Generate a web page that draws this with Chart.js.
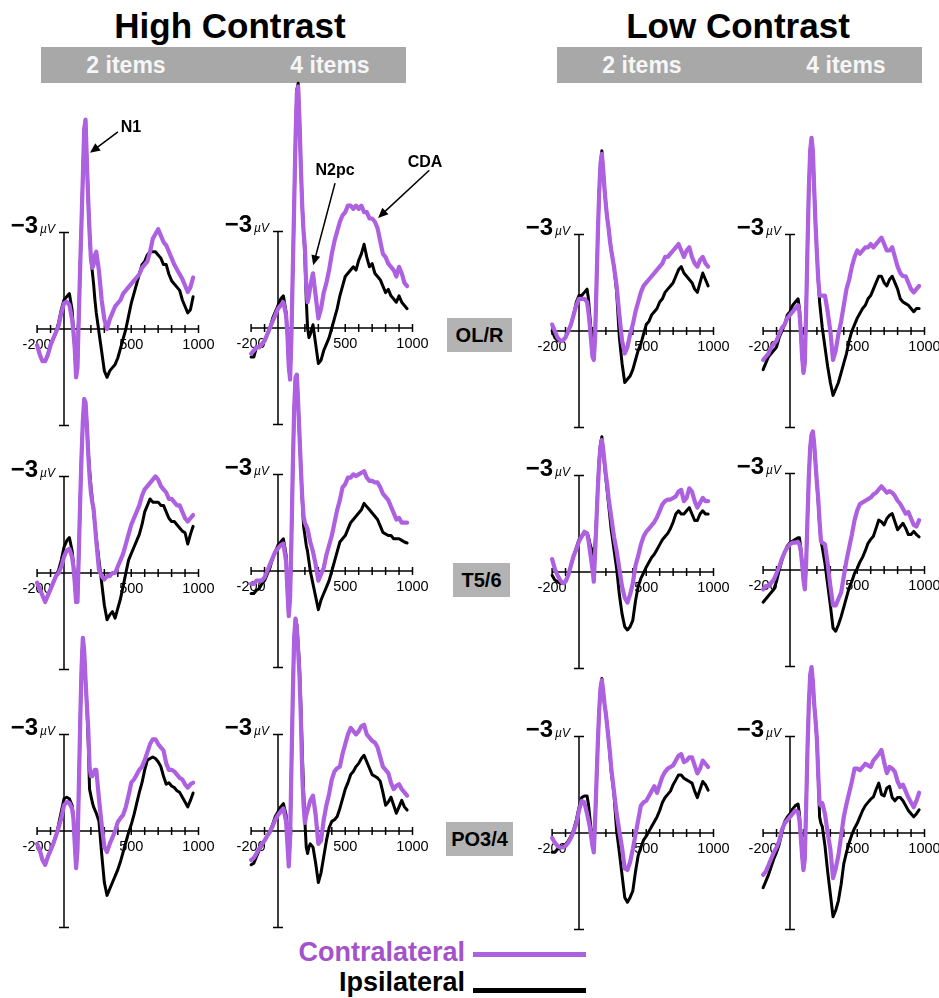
<!DOCTYPE html>
<html>
<head>
<meta charset="utf-8">
<script src="https://cdn.jsdelivr.net/npm/chart.js@4.4.1/dist/chart.umd.min.js"></script>
<style>
html,body{margin:0;padding:0;background:#fff;}
body{width:939px;height:998px;position:relative;overflow:hidden;font-family:"Liberation Sans",Arial,Helvetica,sans-serif;}
.abs{position:absolute;white-space:nowrap;}
.title{font-weight:bold;font-size:35px;line-height:35px;color:#000;transform:translateX(-50%);}
.band{background:#a8a8a8;}
.bandtxt{position:absolute;top:0;height:36px;line-height:36px;color:#f6f6f6;font-weight:bold;font-size:23px;transform:translateX(-50%);}
.rowlab{background:#b3b3b3;font-weight:bold;font-size:20px;color:#000;display:flex;align-items:center;justify-content:center;height:34px;}
.leg{font-weight:bold;font-size:27px;line-height:27px;text-align:right;}
canvas{position:absolute;pointer-events:none;}
</style>
</head>
<body>
<script>
// ---------------- DATA ----------------
// time samples (ms); denser around the N1 complex
const TIMES = [-200,-180,-160,-140,-120,-100,-80,-60,-40,-20,0,20,40,60,
  70,80,90,100,110,120,130,140,150,160,170,180,190,200,210,220,230,240,
  260,280,300,320,340,360,380,400,420,440,460,480,500,520,540,560,580,600,620,640,
  660,680,700,720,740,760,780,800,820,840,860,880,900,920,940,960];

const CONTRAST_LABELS = ["High Contrast", "Low Contrast"];
const SETSIZE_LABELS = ["2 items", "4 items"];
const SITE_LABELS = ["OL/R", "T5/6", "PO3/4"];
const X_TICK_LABELS = [-200, 500, 1000];
const Y_TICK_VALUE = -3;
const Y_TICK_TEXT = "\u22123";
const Y_UNIT = "\u00b5V";
const LEGEND_LABELS = ["Contralateral", "Ipsilateral"];

// µV values (negative plotted up), one value per TIMES entry
const OLR_HC2_CONTRA = [0.5,0.8,1.0,1.0,0.8,0.5,0.3,0.1,-0.1,-0.5,-0.8,-0.85,-0.75,-0.3,
  0.1,0.6,1.5,1.2,-0.4,-1.9,-3.3,-4.7,-6.2,-6.5,-5.2,-4.0,-3.0,-2.2,-1.9,-2.0,-2.3,-2.4,
  -1.8,-0.9,-0.3,0.0,-0.3,-0.5,-0.7,-0.8,-0.9,-1.1,-1.2,-1.3,-1.4,-1.5,-1.6,-1.7,-1.9,-2.0,-2.1,-2.4,
  -2.8,-2.95,-3.1,-2.9,-2.7,-2.6,-2.4,-2.2,-2.0,-1.85,-1.7,-1.55,-1.35,-1.15,-1.3,-1.6];
const OLR_HC2_IPSI = [0.5,0.8,1.0,1.0,0.8,0.5,0.3,0.1,-0.2,-0.6,-0.9,-1.0,-1.1,-0.6,
  0.0,0.6,1.5,1.2,-0.4,-1.9,-3.3,-4.7,-6.2,-6.5,-5.2,-4.0,-3.0,-2.2,-1.8,-1.4,-0.9,-0.5,
  0.1,0.7,1.3,1.5,1.3,1.2,1.1,0.9,0.6,0.3,0.0,-0.4,-0.8,-1.1,-1.4,-1.7,-2.0,-2.1,-2.3,-2.4,
  -2.4,-2.4,-2.3,-2.2,-2.0,-2.0,-1.7,-1.5,-1.4,-1.3,-1.2,-0.9,-0.7,-0.5,-0.6,-1.0];
const OLR_HC4_CONTRA = [0.8,0.7,0.6,0.6,0.5,0.4,0.2,0.0,-0.2,-0.4,-0.6,-0.7,-0.8,-0.4,
  0.2,1.2,1.6,0.2,-1.8,-3.8,-5.8,-7.3,-7.5,-6.4,-5.0,-3.8,-3.0,-2.5,-1.3,-0.8,-1.0,-1.3,
  -1.7,-1.0,-0.3,-0.6,-1.1,-1.4,-1.8,-2.3,-2.7,-3.0,-3.3,-3.5,-3.6,-3.8,-3.8,-3.7,-3.8,-3.7,-3.8,-3.6,
  -3.6,-3.4,-3.4,-3.3,-3.1,-2.7,-2.3,-2.2,-2.0,-1.9,-1.8,-1.6,-1.9,-1.7,-1.4,-1.3];
const OLR_HC4_IPSI = [0.9,0.9,0.6,0.6,0.5,0.4,0.2,0.0,-0.3,-0.5,-0.7,-0.9,-1.0,-0.5,
  0.2,1.2,1.6,0.2,-1.8,-3.8,-5.8,-7.4,-7.6,-6.4,-5.0,-3.8,-3.0,-2.2,-0.9,0.0,0.3,0.2,
  -0.1,0.5,1.1,1.0,0.7,0.5,0.3,0.0,-0.3,-0.6,-1.0,-1.3,-1.6,-1.7,-1.8,-1.9,-1.8,-2.1,-2.3,-2.6,
  -2.2,-1.9,-2.0,-1.7,-1.6,-1.5,-1.3,-1.1,-1.2,-1.0,-0.9,-0.8,-1.0,-0.8,-0.7,-0.6];
const OLR_LC2_CONTRA = [-0.2,0.0,0.2,0.3,0.3,0.2,0.0,-0.2,-0.5,-0.8,-1.0,-1.0,-1.0,-0.9,
  -0.6,-0.2,0.3,0.8,0.9,0.2,-1.4,-3.0,-4.3,-5.2,-5.5,-5.0,-4.4,-3.9,-3.5,-3.2,-2.8,-2.5,
  -2.0,-1.4,-0.5,0.3,0.7,0.5,0.1,-0.2,-0.6,-0.9,-1.2,-1.4,-1.5,-1.6,-1.7,-1.8,-1.9,-2.0,-2.1,-2.3,
  -2.3,-2.4,-2.5,-2.6,-2.7,-2.5,-2.3,-2.5,-2.6,-2.3,-2.1,-2.0,-2.2,-2.3,-2.1,-2.0];
const OLR_LC2_IPSI = [0.0,0.2,0.3,0.3,0.3,0.2,0.0,-0.2,-0.5,-0.9,-1.1,-1.1,-1.2,-1.3,
  -1.0,-0.5,0.0,0.2,0.3,0.0,-1.4,-3.0,-4.3,-5.2,-5.6,-5.0,-4.4,-3.9,-3.5,-3.2,-2.8,-2.5,
  -2.0,-1.2,0.2,1.0,1.6,1.5,1.4,1.2,0.9,0.6,0.4,0.1,-0.2,-0.3,-0.5,-0.6,-0.7,-0.9,-1.0,-1.2,
  -1.3,-1.4,-1.5,-1.7,-1.9,-2.0,-1.8,-1.7,-1.6,-1.5,-1.3,-1.2,-1.5,-1.8,-1.6,-1.4];
const OLR_LC4_CONTRA = [0.9,0.8,0.7,0.5,0.4,0.3,0.1,-0.1,-0.2,-0.4,-0.5,-0.6,-0.7,-0.8,
  -0.6,0.0,0.8,1.3,1.0,-0.6,-2.6,-4.4,-5.6,-6.0,-5.6,-4.4,-3.3,-2.4,-1.6,-1.1,-1.1,-1.1,
  -1.1,-0.6,0.0,0.9,0.6,0.1,-0.3,-0.8,-1.3,-1.6,-2.0,-2.3,-2.5,-2.4,-2.5,-2.6,-2.6,-2.7,-2.6,-2.7,
  -2.8,-2.9,-2.7,-2.5,-2.5,-2.6,-2.3,-2.0,-1.8,-1.7,-1.7,-1.5,-1.3,-1.2,-1.3,-1.4];
const OLR_LC4_IPSI = [1.2,1.0,0.8,0.7,0.6,0.5,0.2,0.0,-0.2,-0.5,-0.6,-0.8,-0.9,-1.0,
  -0.7,0.0,0.8,1.3,1.0,-0.6,-2.6,-4.4,-5.6,-6.0,-5.6,-4.4,-3.3,-2.4,-1.6,-0.9,-0.5,-0.1,
  0.5,1.1,1.6,2.0,1.8,1.6,1.3,1.0,0.7,0.3,0.0,-0.2,-0.4,-0.55,-0.7,-0.8,-1.0,-1.1,-1.3,-1.5,
  -1.7,-1.7,-1.5,-1.4,-1.6,-1.7,-1.5,-1.3,-1.0,-0.9,-0.85,-0.8,-0.7,-0.6,-0.7,-0.7];

const T56_HC2_CONTRA = [0.3,0.5,0.7,0.9,0.7,0.5,0.3,0.1,0.0,-0.2,-0.5,-0.7,-0.75,-0.5,
  -0.2,0.3,0.9,0.9,-0.6,-2.2,-3.6,-4.7,-5.4,-5.3,-4.6,-3.7,-3.0,-2.5,-2.2,-2.0,-1.5,-1.0,
  -0.1,0.1,0.2,0.1,0.1,0.0,0.0,-0.2,-0.4,-0.6,-0.9,-1.2,-1.5,-1.7,-1.9,-2.1,-2.4,-2.6,-2.7,-2.8,
  -2.9,-3.0,-2.9,-2.7,-2.6,-2.5,-2.3,-2.3,-2.2,-2.1,-2.1,-1.9,-1.7,-1.6,-1.7,-1.8];
const T56_HC2_IPSI = [0.3,0.5,0.7,0.9,0.7,0.5,0.3,0.1,-0.1,-0.4,-0.8,-1.0,-1.1,-0.7,
  -0.3,0.3,0.9,0.9,-0.6,-2.2,-3.6,-4.7,-5.4,-5.3,-4.6,-3.8,-3.2,-2.7,-2.3,-1.9,-1.5,-1.1,
  -0.4,0.3,1.0,1.45,1.3,1.2,1.4,1.1,0.8,0.4,0.0,-0.4,-0.6,-0.8,-1.0,-1.2,-1.5,-1.9,-2.1,-2.3,
  -2.2,-2.2,-2.2,-2.1,-2.1,-1.9,-1.7,-1.6,-1.6,-1.5,-1.4,-1.3,-1.25,-0.9,-1.2,-1.45];
const T56_HC4_CONTRA = [0.4,0.4,0.3,0.3,0.3,0.2,0.0,-0.2,-0.4,-0.6,-0.7,-0.8,-0.85,-0.3,
  0.6,1.4,0.8,-1.0,-3.2,-5.0,-6.0,-6.1,-5.2,-4.2,-3.2,-2.3,-1.7,-1.5,-1.4,-1.3,-1.1,-0.9,
  -0.6,-0.2,0.3,0.1,-0.1,-0.5,-0.8,-1.1,-1.5,-1.9,-2.2,-2.6,-2.7,-2.9,-2.9,-3.0,-2.95,-3.0,-3.05,-3.1,
  -2.9,-2.8,-2.8,-2.75,-2.75,-2.6,-2.4,-2.3,-2.2,-2.0,-1.8,-1.6,-1.65,-1.5,-1.5,-1.5];
const T56_HC4_IPSI = [0.7,0.7,0.6,0.55,0.4,0.3,0.1,-0.1,-0.4,-0.6,-0.8,-0.9,-1.0,-0.5,
  0.6,1.4,0.8,-1.0,-3.2,-5.0,-6.0,-6.1,-5.2,-4.2,-3.2,-2.2,-1.4,-1.1,-0.8,-0.6,-0.3,0.0,
  0.4,0.8,1.2,0.9,0.7,0.5,0.3,0.0,-0.3,-0.6,-0.9,-1.0,-1.1,-1.3,-1.5,-1.6,-1.7,-1.8,-1.9,-2.1,
  -2.0,-1.9,-1.8,-1.7,-1.6,-1.4,-1.2,-1.15,-1.1,-1.1,-1.0,-1.0,-1.0,-0.95,-0.9,-0.87];
const T56_LC2_CONTRA = [-0.4,-0.1,0.1,0.25,0.35,0.3,0.1,-0.2,-0.5,-0.7,-0.95,-1.1,-1.25,-1.2,
  -1.0,-0.7,-0.4,-0.1,0.3,-0.6,-1.6,-2.6,-3.4,-3.9,-4.1,-3.8,-3.4,-3.0,-2.7,-2.3,-2.0,-1.7,
  -1.1,-0.65,-0.1,0.45,0.8,0.95,0.7,0.35,-0.2,-0.5,-0.85,-1.1,-1.25,-1.35,-1.45,-1.55,-1.7,-1.9,-2.1,-2.2,
  -2.25,-2.25,-2.3,-2.35,-2.5,-2.55,-2.2,-2.3,-2.6,-2.5,-2.2,-2.0,-2.15,-2.3,-2.2,-2.2];
const T56_LC2_IPSI = [0.1,0.25,0.3,0.35,0.35,0.3,0.1,-0.2,-0.5,-0.75,-1.0,-1.1,-1.2,-1.2,
  -1.1,-0.9,-0.75,-0.7,-0.5,-0.9,-1.7,-2.7,-3.5,-4.0,-4.2,-3.8,-3.3,-2.9,-2.5,-2.1,-1.7,-1.3,
  -0.7,-0.1,0.7,1.3,1.7,1.8,1.7,1.5,0.9,0.45,0.2,0.03,-0.15,-0.3,-0.45,-0.55,-0.7,-0.85,-1.0,-1.1,
  -1.2,-1.35,-1.55,-1.8,-1.9,-1.8,-1.8,-1.9,-2.0,-1.8,-1.6,-1.6,-1.8,-1.9,-1.8,-1.8];
const T56_LC4_CONTRA = [0.6,0.5,0.5,0.4,0.3,0.1,-0.1,-0.35,-0.55,-0.7,-0.8,-0.85,-0.85,-0.87,
  -0.8,-0.6,-0.2,0.3,0.6,-0.2,-1.6,-2.9,-3.8,-4.2,-4.3,-3.9,-3.3,-2.7,-2.2,-1.5,-0.9,-0.85,
  -0.8,-0.2,0.5,1.1,1.1,0.9,0.7,0.2,-0.3,-0.7,-1.1,-1.55,-1.85,-2.05,-2.1,-2.15,-2.2,-2.25,-2.35,-2.4,
  -2.5,-2.6,-2.5,-2.4,-2.45,-2.4,-2.3,-2.15,-2.05,-1.9,-1.75,-1.8,-1.6,-1.4,-1.35,-1.55];
const T56_LC4_IPSI = [1.0,0.9,0.8,0.7,0.6,0.35,0.0,-0.3,-0.55,-0.75,-0.85,-0.9,-0.95,-1.0,
  -1.0,-0.7,-0.2,0.3,0.6,-0.2,-1.6,-2.9,-3.8,-4.2,-4.3,-3.9,-3.3,-2.7,-2.1,-1.4,-0.9,-0.7,
  -0.2,0.45,1.1,1.8,1.9,1.7,1.45,1.15,0.85,0.55,0.35,0.1,-0.05,-0.25,-0.4,-0.6,-0.83,-0.95,-1.05,-1.3,
  -1.55,-1.5,-1.4,-1.6,-1.7,-1.75,-1.5,-1.25,-1.35,-1.45,-1.3,-1.1,-1.1,-1.2,-1.1,-1.03];

const PO34_HC2_CONTRA = [0.4,0.6,0.9,1.05,0.8,0.6,0.4,0.15,-0.1,-0.4,-0.8,-0.9,-0.87,-0.7,
  -0.4,0.4,1.15,0.6,-1.3,-3.3,-5.0,-6.0,-5.6,-4.7,-3.9,-3.2,-2.0,-1.7,-1.7,-1.8,-1.9,-1.9,
  -1.0,-0.2,0.5,0.65,0.4,0.2,0.0,-0.28,-0.4,-0.5,-0.75,-1.1,-1.5,-1.6,-1.75,-1.9,-2.0,-2.2,-2.45,-2.7,
  -2.85,-2.85,-2.7,-2.6,-2.5,-2.1,-1.9,-1.9,-1.85,-1.75,-1.65,-1.6,-1.45,-1.35,-1.45,-1.5];
const PO34_HC2_IPSI = [0.4,0.6,0.9,1.05,0.8,0.6,0.4,0.15,-0.2,-0.6,-1.0,-1.05,-1.0,-0.8,
  -0.45,0.4,1.15,0.6,-1.3,-3.3,-5.0,-6.0,-5.6,-4.7,-3.9,-2.8,-1.3,-1.1,-0.9,-0.75,-0.65,-0.55,
  -0.3,0.7,1.6,2.0,1.8,1.6,1.4,1.2,0.95,0.65,0.35,0.05,-0.2,-0.5,-0.85,-1.2,-1.5,-1.9,-2.2,-2.25,
  -2.3,-2.25,-2.15,-2.0,-1.7,-1.45,-1.5,-1.4,-1.35,-1.25,-1.2,-1.05,-0.9,-0.75,-0.95,-1.18];
const PO34_HC4_CONTRA = [0.9,0.84,0.7,0.55,0.4,0.3,0.15,0.03,-0.15,-0.35,-0.5,-0.6,-0.7,-0.3,
  0.4,1.1,0.2,-2.0,-4.2,-6.0,-6.6,-6.3,-5.6,-4.8,-3.5,-1.8,-0.8,-0.25,-0.5,-0.65,-0.8,-0.95,
  -1.1,-0.5,0.4,0.3,-0.35,-0.8,-1.15,-1.6,-1.85,-1.95,-2.0,-2.4,-2.7,-3.0,-3.2,-3.1,-3.0,-3.1,-3.25,-3.3,
  -3.0,-2.9,-2.8,-2.75,-2.6,-2.3,-2.0,-1.9,-1.8,-1.5,-1.3,-1.4,-1.45,-1.3,-1.2,-1.1];
const PO34_HC4_IPSI = [1.05,1.0,0.8,0.6,0.45,0.3,0.15,0.0,-0.2,-0.45,-0.6,-0.75,-0.85,-0.5,
  0.3,1.0,0.2,-2.0,-4.2,-6.0,-6.6,-6.4,-5.8,-5.1,-3.9,-2.5,-1.3,-0.3,0.5,0.7,0.5,0.4,
  0.5,1.0,1.6,1.3,0.8,0.3,-0.1,-0.3,-0.35,-0.45,-0.7,-1.0,-1.3,-1.5,-1.75,-1.85,-2.0,-2.1,-2.25,-2.35,
  -2.15,-1.95,-1.75,-1.7,-1.65,-1.55,-1.2,-0.8,-0.9,-1.05,-0.8,-0.55,-0.75,-0.95,-0.75,-0.65];
const PO34_LC2_CONTRA = [0.15,0.3,0.4,0.45,0.45,0.4,0.3,0.15,-0.05,-0.3,-0.7,-1.0,-0.95,-0.6,
  -0.4,-0.2,0.1,0.4,0.6,-0.4,-1.6,-2.8,-3.8,-4.5,-4.75,-4.4,-4.0,-3.7,-3.3,-2.9,-2.5,-2.0,
  -1.3,-0.6,-0.05,0.45,1.1,1.15,0.9,0.5,0.05,-0.4,-0.85,-0.95,-1.0,-1.15,-1.3,-1.45,-1.25,-1.5,-1.75,-1.9,
  -2.0,-2.05,-2.1,-2.25,-2.4,-2.45,-2.2,-2.25,-2.35,-2.35,-2.1,-1.85,-2.0,-2.25,-2.15,-2.05];
const PO34_LC2_IPSI = [0.6,0.6,0.5,0.45,0.4,0.35,0.25,0.1,-0.1,-0.4,-0.8,-1.1,-1.15,-1.15,
  -0.9,-0.5,-0.1,0.3,0.45,-0.4,-1.6,-2.8,-3.8,-4.5,-4.8,-4.4,-4.0,-3.7,-3.3,-2.9,-2.4,-1.9,
  -1.2,-0.05,0.6,1.3,2.0,2.15,2.0,1.8,1.2,0.7,0.45,0.22,0.1,-0.05,-0.2,-0.35,-0.5,-0.7,-0.95,-1.1,
  -1.2,-1.3,-1.5,-1.65,-1.8,-1.8,-1.7,-1.65,-1.6,-1.55,-1.3,-1.1,-1.35,-1.6,-1.5,-1.33];
const PO34_LC4_CONTRA = [1.3,1.2,1.0,0.8,0.6,0.45,0.25,-0.1,-0.3,-0.4,-0.5,-0.6,-0.7,-0.65,
  -0.4,0.1,0.7,1.15,0.8,-0.8,-2.6,-4.0,-4.9,-5.15,-4.7,-4.0,-3.5,-2.9,-1.8,-0.9,-0.85,-0.93,
  -0.6,0.0,0.5,1.4,1.1,0.7,0.1,-0.5,-0.9,-1.25,-1.6,-2.0,-2.0,-1.95,-2.05,-2.15,-2.1,-2.05,-2.25,-2.35,
  -2.45,-2.58,-2.2,-1.86,-2.05,-2.0,-1.9,-1.6,-1.43,-1.5,-1.3,-1.1,-0.95,-0.8,-1.0,-1.25];
const PO34_LC4_IPSI = [1.7,1.5,1.3,1.05,0.8,0.6,0.35,0.0,-0.35,-0.5,-0.6,-0.75,-0.85,-0.9,
  -0.6,0.1,0.7,1.15,0.8,-0.8,-2.6,-4.0,-4.9,-5.15,-4.7,-4.0,-3.5,-2.9,-1.8,-0.5,-0.3,-0.2,
  0.4,1.2,1.9,2.6,2.4,2.1,1.6,0.95,0.6,0.3,0.05,-0.15,-0.3,-0.5,-0.7,-0.85,-0.95,-1.05,-1.12,-1.35,
  -1.55,-1.2,-1.15,-1.4,-1.45,-1.1,-1.0,-1.1,-1.1,-1.0,-0.85,-0.7,-0.6,-0.5,-0.6,-0.72];

// annotations in data coordinates (ms, µV) of the panel they belong to
const NOTES = [
  {panel: 0, label: "N1",   text: [498, -6.27],  tail: [401, -6.12], head: [193, -5.47]},
  {panel: 1, label: "N2pc", text: [424, -4.88],  tail: [424, -4.5],  head: [262, -1.95]},
  {panel: 1, label: "CDA",  text: [1093, -5.15], tail: [1125, -4.9], head: [744, -3.42]}
];

// ---------------- LAYOUT / STYLE ----------------
const PURPLE = "#ad60e0";
const FONT = '"Liberation Sans", Arial, Helvetica, sans-serif';
const PXMS = 0.1345;        // pixels per ms
const PXUV = 32.2;          // pixels per µV
const CW = 252, CH = 392;   // canvas size per panel
const COL_ZERO_X = [64, 278, 579, 790];
const ROW_ZERO_Y = [[329, 328, 331, 331], [573, 571, 572, 570], [831, 831, 833, 833]];

const PANELS = [
  [OLR_HC2_CONTRA, OLR_HC2_IPSI], [OLR_HC4_CONTRA, OLR_HC4_IPSI], [OLR_LC2_CONTRA, OLR_LC2_IPSI], [OLR_LC4_CONTRA, OLR_LC4_IPSI],
  [T56_HC2_CONTRA, T56_HC2_IPSI], [T56_HC4_CONTRA, T56_HC4_IPSI], [T56_LC2_CONTRA, T56_LC2_IPSI], [T56_LC4_CONTRA, T56_LC4_IPSI],
  [PO34_HC2_CONTRA, PO34_HC2_IPSI], [PO34_HC4_CONTRA, PO34_HC4_IPSI], [PO34_LC2_CONTRA, PO34_LC2_IPSI], [PO34_LC4_CONTRA, PO34_LC4_IPSI]
];

function el(cls, style, text) {
  const d = document.createElement('div');
  d.className = 'abs ' + cls;
  Object.assign(d.style, style);
  if (text !== undefined) d.textContent = text;
  document.body.appendChild(d);
  return d;
}

// titles and header bands
el('title', {left: '230px', top: '8px'}, CONTRAST_LABELS[0]);
el('title', {left: '738px', top: '8px'}, CONTRAST_LABELS[1]);
const BANDS = [{left: 41, width: 365, cols: [126, 330]}, {left: 557, width: 365, cols: [642, 846]}];
BANDS.forEach(b => {
  const band = el('band', {left: b.left + 'px', top: '47px', width: b.width + 'px', height: '36px'});
  b.cols.forEach((cx, i) => {
    const t = document.createElement('div');
    t.className = 'bandtxt';
    t.style.left = (cx - b.left) + 'px';
    t.textContent = SETSIZE_LABELS[i];
    band.appendChild(t);
  });
});
// row labels
const ROW_BOX = [{l: 447, t: 318, w: 65}, {l: 453, t: 563, w: 57}, {l: 446, t: 822, w: 67}];
ROW_BOX.forEach((b, i) => el('rowlab', {left: b.l + 'px', top: b.t + 'px', width: b.w + 'px'}, SITE_LABELS[i]));
// legend
el('leg', {right: '474px', top: '939px', color: '#a352c9'}, LEGEND_LABELS[0]);
el('leg', {right: '474px', top: '969px', color: '#000'}, LEGEND_LABELS[1]);
el('', {left: '473px', top: '952px', width: '113px', height: '5px', background: PURPLE});
el('', {left: '473px', top: '988px', width: '113px', height: '5px', background: '#000'});

// ---------------- PLUGINS ----------------
const erpAxes = {
  id: 'erpAxes',
  beforeDatasetsDraw(chart) {
    const {ctx, scales: {x, y}} = chart;
    ctx.save();
    ctx.strokeStyle = '#000';
    ctx.lineWidth = 1.5;
    const y0 = y.getPixelForValue(0);
    const x0 = x.getPixelForValue(0);
    const yt = y.getPixelForValue(Y_TICK_VALUE), yb = y.getPixelForValue(-Y_TICK_VALUE);
    ctx.beginPath();
    ctx.moveTo(x.getPixelForValue(-200), y0);
    ctx.lineTo(x.getPixelForValue(1000), y0);
    for (let t = -200; t <= 1000; t += 100) {
      const px = x.getPixelForValue(t);
      ctx.moveTo(px, y0 - 4); ctx.lineTo(px, y0 + 4);
    }
    ctx.moveTo(x0, yt); ctx.lineTo(x0, yb);
    ctx.moveTo(x0 - 5, yt); ctx.lineTo(x0 + 5, yt);
    ctx.moveTo(x0 - 5, yb); ctx.lineTo(x0 + 5, yb);
    ctx.stroke();
    ctx.fillStyle = '#000';
    ctx.font = '14.5px ' + FONT;
    ctx.textAlign = 'center';
    ctx.textBaseline = 'alphabetic';
    X_TICK_LABELS.forEach(t => ctx.fillText(String(t), x.getPixelForValue(t), y0 + 20));
    ctx.textAlign = 'right';
    ctx.font = 'italic 12px ' + FONT;
    ctx.fillText(Y_UNIT, x0 - 9, yt + 1);
    const uw = ctx.measureText(Y_UNIT).width;
    ctx.font = 'bold 24px ' + FONT;
    ctx.fillText(Y_TICK_TEXT, x0 - 11 - uw, yt + 1);
    ctx.restore();
  }
};

function notesPlugin(list) {
  return {
    id: 'erpNotes',
    afterDatasetsDraw(chart) {
      const {ctx, scales: {x, y}} = chart;
      ctx.save();
      list.forEach(n => {
        const tx = x.getPixelForValue(n.tail[0]), ty = y.getPixelForValue(n.tail[1]);
        const hx = x.getPixelForValue(n.head[0]), hy = y.getPixelForValue(n.head[1]);
        const ang = Math.atan2(hy - ty, hx - tx);
        ctx.strokeStyle = '#000'; ctx.fillStyle = '#000'; ctx.lineWidth = 1.5;
        ctx.beginPath();
        ctx.moveTo(tx, ty);
        ctx.lineTo(hx - 7 * Math.cos(ang), hy - 7 * Math.sin(ang));
        ctx.stroke();
        ctx.beginPath();
        ctx.moveTo(hx, hy);
        ctx.lineTo(hx - 10 * Math.cos(ang) + 4.5 * Math.sin(ang), hy - 10 * Math.sin(ang) - 4.5 * Math.cos(ang));
        ctx.lineTo(hx - 10 * Math.cos(ang) - 4.5 * Math.sin(ang), hy - 10 * Math.sin(ang) + 4.5 * Math.cos(ang));
        ctx.closePath();
        ctx.fill();
        ctx.font = 'bold 16px ' + FONT;
        ctx.textAlign = 'center';
        ctx.textBaseline = 'middle';
        ctx.fillText(n.label, x.getPixelForValue(n.text[0]), y.getPixelForValue(n.text[1]));
      });
      ctx.restore();
    }
  };
}

// ---------------- CHARTS ----------------
const pts = arr => TIMES.map((t, i) => ({x: t, y: arr[i]}));

PANELS.forEach((pair, idx) => {
  const row = Math.floor(idx / 4), col = idx % 4;
  const zx = COL_ZERO_X[col], zy = ROW_ZERO_Y[row][col];
  const left = Math.round(zx - 500 * PXMS);
  const top = Math.round(zy - 8.5 * PXUV);
  const xmin = (left - zx) / PXMS, xmax = xmin + CW / PXMS;
  const ymin = (top - zy) / PXUV, ymax = ymin + CH / PXUV;
  const c = document.createElement('canvas');
  c.width = CW; c.height = CH;
  c.style.left = left + 'px'; c.style.top = top + 'px';
  c.style.width = CW + 'px'; c.style.height = CH + 'px';
  document.body.appendChild(c);
  new Chart(c, {
    type: 'line',
    data: {
      datasets: [
        {label: LEGEND_LABELS[0], data: pts(pair[0]), borderColor: PURPLE, borderWidth: 4.2, pointRadius: 0,
         tension: 0, borderJoinStyle: 'round', borderCapStyle: 'round', order: 0},
        {label: LEGEND_LABELS[1], data: pts(pair[1]), borderColor: '#000', borderWidth: 3, pointRadius: 0,
         tension: 0, borderJoinStyle: 'round', borderCapStyle: 'round', order: 1}
      ]
    },
    options: {
      responsive: false, animation: false, events: [],
      devicePixelRatio: 1,
      layout: {padding: 0},
      plugins: {legend: {display: false}, tooltip: {enabled: false}, title: {display: false}},
      scales: {
        x: {type: 'linear', min: xmin, max: xmax, display: false, bounds: 'data'},
        y: {type: 'linear', min: ymin, max: ymax, reverse: true, display: false, bounds: 'data'}
      }
    },
    plugins: [erpAxes, notesPlugin(NOTES.filter(n => n.panel === idx))]
  });
});
</script>
</body>
</html>
